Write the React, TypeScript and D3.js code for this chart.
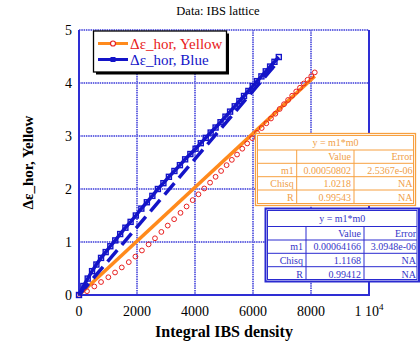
import React from "react";
import * as d3 from "d3";

// Yellow ring data (red open circles)
const yellowX = [0, 276, 528, 760, 1012, 1243, 1475, 1717, 1945, 2170, 2400, 2620, 2840, 3060, 3280, 3500, 3710, 3920, 4120, 4320, 4520, 4710, 4900, 5090, 5270, 5450, 5630, 5800, 5970, 6140, 6300, 6460, 6620, 6770, 6920, 7070, 7210, 7350, 7490, 7620, 7750, 7880, 8010, 8130];
const yellowY = [0, 0.072, 0.161, 0.245, 0.335, 0.425, 0.52, 0.62, 0.725, 0.84, 0.955, 1.07, 1.19, 1.31, 1.43, 1.55, 1.67, 1.79, 1.9, 2.01, 2.12, 2.23, 2.34, 2.45, 2.55, 2.65, 2.76, 2.86, 2.96, 3.06, 3.15, 3.24, 3.33, 3.42, 3.51, 3.6, 3.68, 3.76, 3.84, 3.91, 3.99, 4.06, 4.13, 4.2];

// Blue ring data (blue squares)
const blueX = [0, 150, 300, 450, 600, 760, 920, 1080, 1250, 1420, 1600, 1780, 1960, 2150, 2340, 2530, 2720, 2910, 3100, 3290, 3480, 3660, 3840, 4020, 4200, 4370, 4540, 4710, 4880, 5050, 5210, 5370, 5530, 5690, 5840, 5990, 6140, 6290, 6440, 6590, 6740, 6890];
const blueY = [0, 0.17, 0.31, 0.45, 0.575, 0.7, 0.81, 0.92, 1.03, 1.15, 1.27, 1.38, 1.5, 1.63, 1.75, 1.87, 2.0, 2.11, 2.23, 2.34, 2.45, 2.56, 2.66, 2.76, 2.865, 2.965, 3.065, 3.16, 3.26, 3.365, 3.46, 3.56, 3.66, 3.755, 3.85, 3.94, 4.035, 4.125, 4.22, 4.31, 4.4, 4.49];

// fits y = m1*m0
const yellowM1 = 0.00050802;
const blueM1 = 0.00064166;
const yellowFitRange = [0, 8130];
const blueFitRange = [0, 6890];

const yellowRows = [
  ["m1", "0.00050802", "2.5367e-06"],
  ["Chisq", "1.0218", "NA"],
  ["R", "0.99543", "NA"],
];
const blueRows = [
  ["m1", "0.00064166", "3.0948e-06"],
  ["Chisq", "1.1168", "NA"],
  ["R", "0.99412", "NA"],
];

const xTicks = [0, 2000, 4000, 6000, 8000, 10000];
const yTicks = [0, 1, 2, 3, 4, 5];

const W = 420;
const H = 347;
const plot = { left: 79, right: 369, top: 30, bottom: 295 };
const serif = "'Liberation Serif', 'Times New Roman', serif";

const ORANGE = "#ff8a1c";
const RED = "#e82020";
const BLUE = "#1414c8";
const GRID = "#6a6ae2";

const x = d3.scaleLinear().domain([0, 10000]).range([plot.left, plot.right]);
const y = d3.scaleLinear().domain([0, 5]).range([plot.bottom, plot.top]);

const line = d3
  .line<[number, number]>()
  .x((d) => x(d[0]))
  .y((d) => y(d[1]));

function FitTable(props: {
  cols: number[];
  rowsY: number[];
  rows: string[][];
  line: string;
  text: string;
  outer: number;
}) {
  const { cols, rowsY, rows } = props;
  const x0 = cols[0];
  const x1 = cols[cols.length - 1];
  const y0 = rowsY[0];
  const y1 = rowsY[rowsY.length - 1];
  const body = [["", "Value", "Error"], ...rows];
  return (
    <g fontFamily={serif} fontSize={10}>
      <rect x={x0} y={y0} width={x1 - x0} height={y1 - y0} fill="white" stroke={props.line} strokeWidth={props.outer} />
      <rect x={x0 + 2} y={y0 + 2} width={x1 - x0 - 4} height={y1 - y0 - 4} fill="none" stroke={props.line} strokeWidth={1} />
      {rowsY.slice(1, -1).map((ry, i) => (
        <line key={"r" + i} x1={x0 + 2} x2={x1 - 2} y1={ry} y2={ry} stroke={props.line} strokeWidth={1} />
      ))}
      {cols.slice(1, -1).map((cx, i) => (
        <line key={"c" + i} x1={cx} x2={cx} y1={rowsY[1]} y2={y1 - 2} stroke={props.line} strokeWidth={1} />
      ))}
      <text x={(x0 + x1) / 2} y={(rowsY[0] + rowsY[1]) / 2 + 4} textAnchor="middle" fill={props.text}>
        y = m1*m0
      </text>
      {body.map((r, i) => {
        const cy = (rowsY[i + 1] + rowsY[i + 2]) / 2 + 3.5;
        return r.map((s, j) => (
          <text key={i + "-" + j} x={cols[j + 1] - 3} y={cy} textAnchor="end" fill={props.text}>
            {s}
          </text>
        ));
      })}
    </g>
  );
}

export default function App() {
  const yellowPts: [number, number][] = yellowX.map((v, i) => [v, yellowY[i]]);
  const bluePts: [number, number][] = blueX.map((v, i) => [v, blueY[i]]);
  const yellowFit: [number, number][] = yellowFitRange.map((v) => [v, v * yellowM1]);
  const blueFit: [number, number][] = blueFitRange.map((v) => [v, v * blueM1]);

  return (
    <svg width={W} height={H} style={{ position: "absolute", left: 0, top: 0 }}>
      <rect width={W} height={H} fill="white" />
      <text x={218} y={15} textAnchor="middle" fontFamily={serif} fontSize={12.5}>
        Data: IBS lattice
      </text>

      {/* grid */}
      {xTicks.slice(1, -1).map((t) => (
        <line key={"gx" + t} x1={x(t)} x2={x(t)} y1={plot.top} y2={plot.bottom} stroke={GRID} strokeWidth={2} strokeDasharray="1.5,0.8" />
      ))}
      {yTicks.slice(1, -1).map((t) => (
        <line key={"gy" + t} x1={plot.left} x2={plot.right} y1={y(t)} y2={y(t)} stroke={GRID} strokeWidth={2} strokeDasharray="1.5,0.8" />
      ))}
      <line x1={plot.left} x2={plot.right} y1={plot.top} y2={plot.top} stroke={GRID} strokeWidth={2} strokeDasharray="1.5,0.8" />
      <path
        d={`M${plot.left},${plot.top}V${plot.bottom}H${plot.right}V${plot.top}`}
        fill="none"
        stroke="#2e2ed4"
        strokeWidth={2}
      />

      {/* fits */}
      <path d={line(yellowFit) || ""} fill="none" stroke={ORANGE} strokeWidth={3.5} />
      <path d={line(blueFit) || ""} fill="none" stroke={BLUE} strokeWidth={3.5} strokeDasharray="15,7" />

      {/* data */}
      {yellowPts.map((d, i) => (
        <circle key={"yc" + i} cx={x(d[0])} cy={y(d[1])} r={2.4} fill="none" stroke={RED} strokeWidth={1} />
      ))}
      <path d={line(bluePts) || ""} fill="none" stroke={BLUE} strokeWidth={3.5} />
      {bluePts.map((d, i) => (
        <rect key={"bs" + i} x={x(d[0]) - 2.5} y={y(d[1]) - 2.5} width={5} height={5} fill="none" stroke={BLUE} strokeWidth={1.4} />
      ))}

      {/* axes labels */}
      {xTicks.map((t) => (
        <text key={"tx" + t} x={x(t)} y={316} textAnchor="middle" fontFamily={serif} fontSize={14}>
          {t === 10000 ? (
            <>
              1 10<tspan fontSize={9} dy={-6}>4</tspan>
            </>
          ) : (
            t
          )}
        </text>
      ))}
      {yTicks.map((t) => (
        <text key={"ty" + t} x={72} y={y(t) + 5} textAnchor="end" fontFamily={serif} fontSize={14}>
          {t}
        </text>
      ))}
      <text x={224} y={337} textAnchor="middle" fontFamily={serif} fontSize={16} fontWeight="bold">
        Integral IBS density
      </text>
      <text
        transform={`translate(33,${(plot.top + plot.bottom) / 2}) rotate(-90)`}
        textAnchor="middle"
        fontFamily={serif}
        fontSize={15}
        fontWeight="bold"
      >
        Δε_hor, Yellow
      </text>

      {/* legend */}
      <rect x={96} y={33.5} width={133} height={41} fill="black" />
      <rect x={93.5} y={31} width={133} height={41} fill="white" stroke="black" strokeWidth={1.3} />
      <line x1={98} x2={128} y1={43.5} y2={43.5} stroke={ORANGE} strokeWidth={3} />
      <circle cx={113} cy={43.5} r={2.5} fill="white" stroke={RED} strokeWidth={1.2} />
      <line x1={98} x2={128} y1={59.5} y2={59.5} stroke={BLUE} strokeWidth={3} />
      <rect x={110.5} y={57} width={5} height={5} fill={BLUE} />
      <text x={130} y={48.5} fontFamily={serif} fontSize={15} fill={RED}>
        Δε_hor, Yellow
      </text>
      <text x={130} y={64.5} fontFamily={serif} fontSize={15} fill={BLUE}>
        Δε_hor, Blue
      </text>

      {/* fit tables */}
      <FitTable
        cols={[255.5, 296.7, 354, 415.5]}
        rowsY={[133.5, 150, 163.3, 176.7, 190, 205.5]}
        rows={yellowRows}
        line="#f7a040"
        text="#f0a048"
        outer={1.3}
      />
      <FitTable
        cols={[265.5, 306, 364, 419]}
        rowsY={[208.5, 226.5, 240, 253.3, 266.7, 281.5]}
        rows={blueRows}
        line="#2a2ad0"
        text="#3535c8"
        outer={2}
      />
    </svg>
  );
}
